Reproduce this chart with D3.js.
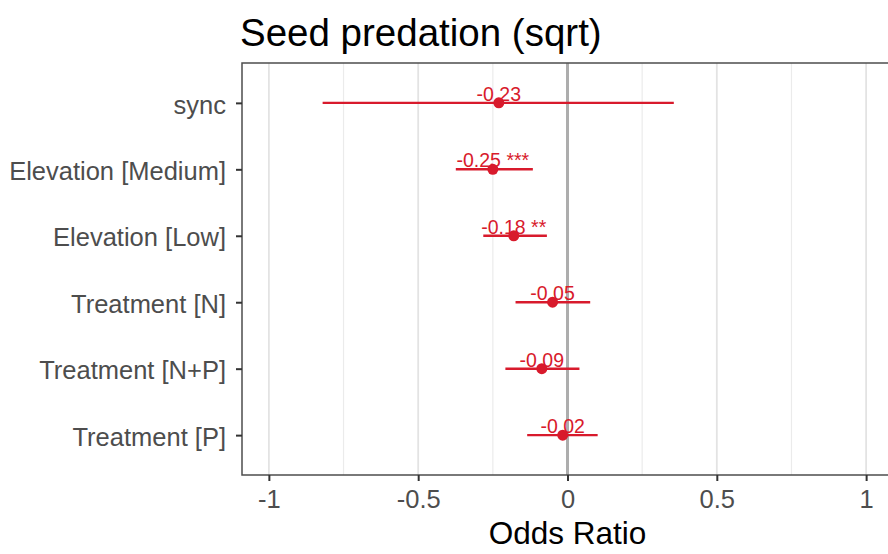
<!DOCTYPE html>
<html>
<head>
<meta charset="utf-8">
<script src="https://cdn.jsdelivr.net/npm/d3@7"></script>
<style>
  body { margin: 0; background: #fff; }
  svg { display: block; font-family: "Liberation Sans", Arial, sans-serif; }
</style>
</head>
<body>
<div id="chart"></div>
<script>
// Forest plot data
const terms = ['sync', 'Elevation [Medium]', 'Elevation [Low]', 'Treatment [N]', 'Treatment [N+P]', 'Treatment [P]'];
const estimates = [-0.23, -0.25, -0.18, -0.05, -0.086, -0.016];
const ciLow = [-0.82, -0.374, -0.282, -0.174, -0.208, -0.135];
const ciHigh = [0.356, -0.116, -0.069, 0.076, 0.040, 0.101];
const stars = ['', '***', '**', '', '', ''];
const xTicks = [-1, -0.5, 0, 0.5, 1];
const xMinor = [-0.75, -0.25, 0.25, 0.75];

const width = 888, height = 554;
const panel = { left: 242, top: 63, right: 893, bottom: 475 };
const red = '#d81a2c';

// plain hyphen instead of d3's unicode minus
const hyphen = f => (d => f(d).replace('\u2212', '-'));

const svg = d3.select('#chart').append('svg')
    .attr('width', width)
    .attr('height', height);

const x = d3.scaleLinear().domain([-1.09, 1.09]).range([panel.left, panel.right]);
const y = d3.scalePoint().domain(terms).range([panel.top, panel.bottom]).padding(0.6);

// grid lines
svg.append('g').selectAll('line.minor')
    .data(xMinor).enter().append('line')
    .attr('x1', d => x(d)).attr('x2', d => x(d))
    .attr('y1', panel.top).attr('y2', panel.bottom)
    .attr('stroke', '#ebebeb').attr('stroke-width', 1.2);

svg.append('g').selectAll('line.major')
    .data(xTicks.filter(d => d !== 0)).enter().append('line')
    .attr('x1', d => x(d)).attr('x2', d => x(d))
    .attr('y1', panel.top).attr('y2', panel.bottom)
    .attr('stroke', '#e3e3e3').attr('stroke-width', 1.8);

// zero reference line
svg.append('line')
    .attr('x1', x(0)).attr('x2', x(0))
    .attr('y1', panel.top).attr('y2', panel.bottom)
    .attr('stroke', '#adadad').attr('stroke-width', 3);

// panel border
svg.append('rect')
    .attr('x', panel.left).attr('y', panel.top)
    .attr('width', panel.right - panel.left).attr('height', panel.bottom - panel.top)
    .attr('fill', 'none').attr('stroke', '#4d4d4d').attr('stroke-width', 1.5);

// x axis
const xAxis = svg.append('g')
    .attr('transform', `translate(0,${panel.bottom})`)
    .call(d3.axisBottom(x).tickValues(xTicks).tickSize(6).tickPadding(9).tickFormat(hyphen(d3.format(''))));
xAxis.select('.domain').remove();
xAxis.selectAll('line').attr('stroke', '#333').attr('stroke-width', 2);
xAxis.selectAll('text').attr('font-size', 25.5).attr('fill', '#4d4d4d').attr('font-family', 'Liberation Sans, Arial, sans-serif');

// y axis
const yAxis = svg.append('g')
    .attr('transform', `translate(${panel.left},0)`)
    .call(d3.axisLeft(y).tickSize(6).tickPadding(10));
yAxis.select('.domain').remove();
yAxis.selectAll('line').attr('stroke', '#333').attr('stroke-width', 2);
yAxis.selectAll('text').attr('font-size', 25.5).attr('fill', '#4d4d4d')
    .attr('font-family', 'Liberation Sans, Arial, sans-serif').attr('dy', '0.4em');

// confidence intervals
const rows = terms.map((t, i) => ({ term: t, est: estimates[i], lo: ciLow[i], hi: ciHigh[i], star: stars[i] }));

svg.append('g').selectAll('line')
    .data(rows).enter().append('line')
    .attr('x1', d => x(d.lo)).attr('x2', d => x(d.hi))
    .attr('y1', d => y(d.term)).attr('y2', d => y(d.term))
    .attr('stroke', red).attr('stroke-width', 2.4);

svg.append('g').selectAll('circle')
    .data(rows).enter().append('circle')
    .attr('cx', d => x(d.est)).attr('cy', d => y(d.term))
    .attr('r', 5.5).attr('fill', red);

const fmt = hyphen(d3.format('.2f'));
svg.append('g').selectAll('text')
    .data(rows).enter().append('text')
    .attr('x', d => x(d.est)).attr('y', d => y(d.term) - 2)
    .attr('text-anchor', 'middle')
    .attr('font-size', 19.5).attr('fill', red)
    .text(d => fmt(d.est) + (d.star ? ' ' + d.star : ''));

// titles
svg.append('text')
    .attr('x', 240).attr('y', 46)
    .attr('font-size', 38.5).attr('fill', '#000')
    .text('Seed predation (sqrt)');

svg.append('text')
    .attr('x', (panel.left + panel.right) / 2).attr('y', 544)
    .attr('text-anchor', 'middle')
    .attr('font-size', 31.5).attr('fill', '#000')
    .text('Odds Ratio');
</script>
</body>
</html>
